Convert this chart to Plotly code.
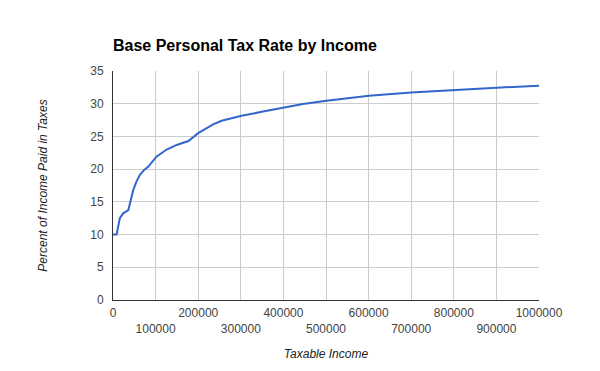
import plotly.graph_objects as go

income = [0, 8500, 16000, 24000, 36000, 42000, 47500, 55000, 63000, 72000, 83000, 102000,
          126000, 149500, 177000, 200000, 218000, 235000, 255000, 274000, 302000, 352000, 399000,
          446000, 501000, 533000, 601000, 700000, 800000, 900000, 1000000]
rate = [10, 10, 12.5, 13.25, 13.75, 15.4, 16.8, 18.1, 19.1, 19.8, 20.4, 21.9,
        23.0, 23.7, 24.3, 25.5, 26.25, 26.85, 27.4, 27.75, 28.15, 28.8, 29.35,
        29.95, 30.46, 30.7, 31.2, 31.7, 32.1, 32.45, 32.75]

x_ticks = [0, 100000, 200000, 300000, 400000, 500000, 600000, 700000, 800000, 900000, 1000000]
x_tick_labels = [("" if i % 2 == 0 else "<br>") + str(v) for i, v in enumerate(x_ticks)]
y_ticks = [0, 5, 10, 15, 20, 25, 30, 35]

fig = go.Figure()
fig.add_trace(go.Scatter(x=income, y=rate, mode="lines",
                         line=dict(color="#3366cc", width=2), hoverinfo="skip"))

fig.update_layout(
    width=600, height=371,
    margin=dict(l=113, r=61, t=71, b=71),
    paper_bgcolor="white", plot_bgcolor="white",
    showlegend=False,
    font=dict(family="Liberation Sans, Arial, sans-serif", size=12, color="#444444"),
    title=dict(text="<b>Base Personal Tax Rate by Income</b>", x=113/600, xanchor="left",
               y=1-45/371, yanchor="middle",
               font=dict(size=16, color="#000000")),
    xaxis=dict(range=[0, 1000000], tickvals=x_ticks, ticktext=x_tick_labels,
               tickangle=0, automargin=False,
               showgrid=True, gridcolor="#cccccc", gridwidth=1,
               showline=True, linecolor="#333333", linewidth=1, zeroline=False,
               ticks="", ticklabelstandoff=2, tickfont=dict(size=12, color="#444444"),
               title=dict(text="<i>Taxable Income</i>", standoff=14,
                          font=dict(size=12, color="#222222"))),
    yaxis=dict(range=[0, 35], tickvals=y_ticks, automargin=False,
               showgrid=True, gridcolor="#cccccc", gridwidth=1,
               showline=True, linecolor="#333333", linewidth=1, zeroline=False,
               ticks="", ticklabelstandoff=6, tickfont=dict(size=12, color="#444444"),
               title=dict(text="<i>Percent of Income Paid in Taxes</i>", standoff=40,
                          font=dict(size=12, color="#222222"))),
)

fig.write_html("out.html")
